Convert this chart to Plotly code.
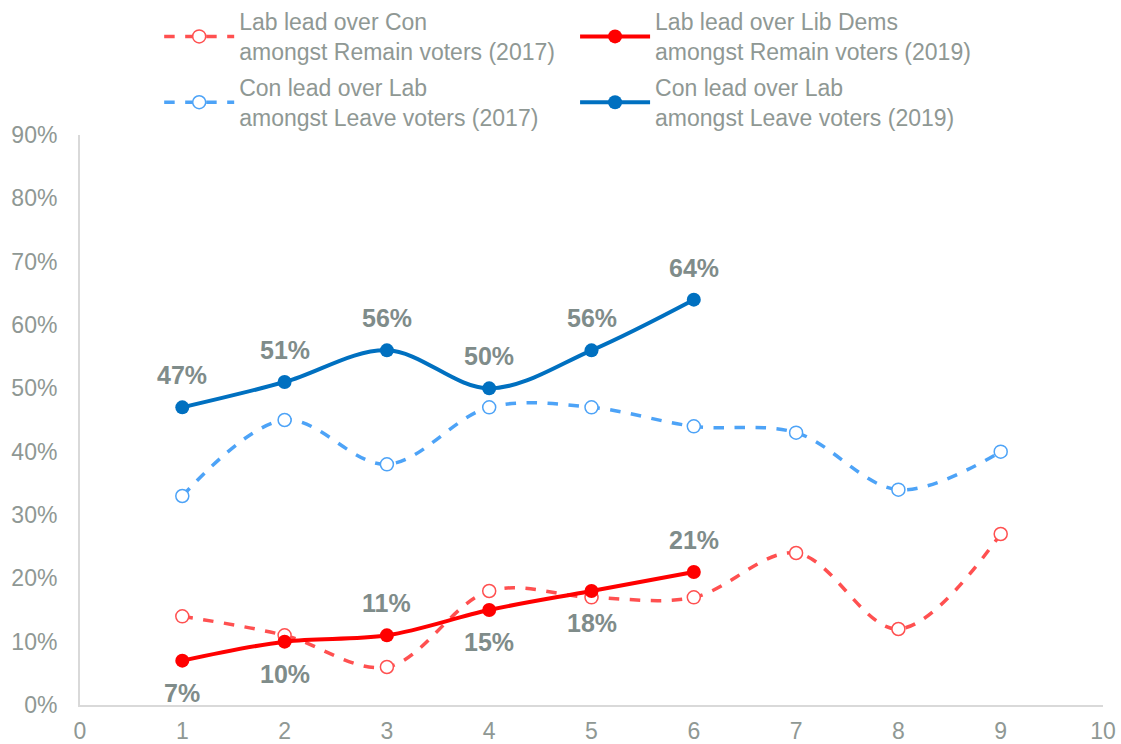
import plotly.graph_objects as go

x_2017 = [1, 2, 3, 4, 5, 6, 7, 8, 9]
x_2019 = [1, 2, 3, 4, 5, 6]
lab_con_remain_2017 = [14, 11, 6, 18, 17, 17, 24, 12, 27]
lab_ld_remain_2019 = [7, 10, 11, 15, 18, 21]
con_lab_leave_2017 = [33, 45, 38, 47, 47, 44, 43, 34, 40]
con_lab_leave_2019 = [47, 51, 56, 50, 56, 64]
red_label_pos = [-1, -1, 1, -1, -1, 1]
blue_label_pos = [1, 1, 1, 1, 1, 1]

names = [
    "Lab lead over Con<br>amongst Remain voters (2017)",
    "Lab lead over Lib Dems<br>amongst Remain voters (2019)",
    "Con lead over Lab<br>amongst Leave voters (2017)",
    "Con lead over Lab<br>amongst Leave voters (2019)",
]

RED_D = "#ff5050"
RED = "#ff0000"
BLUE_D = "#4da3f7"
BLUE = "#0070c0"
GRAY = "#8f9894"
LABEL = "#7f8c8a"
FONT = "Liberation Sans, Arial"

fig = go.Figure()
fig.add_trace(go.Scatter(
    x=x_2017, y=lab_con_remain_2017, name=names[0], mode="lines+markers",
    legend="legend", legendgroup="a",
    line=dict(color=RED_D, width=3.5, dash="dash", shape="spline"),
    marker=dict(symbol="circle", size=13, color="white", line=dict(color=RED_D, width=1.5)),
))
fig.add_trace(go.Scatter(
    x=x_2019, y=lab_ld_remain_2019, name=names[1], mode="lines+markers",
    legend="legend2", legendgroup="b",
    line=dict(color=RED, width=4, shape="spline"),
    marker=dict(symbol="circle", size=14, color=RED),
))
fig.add_trace(go.Scatter(
    x=x_2017, y=con_lab_leave_2017, name=names[2], mode="lines+markers",
    legend="legend", legendgroup="c",
    line=dict(color=BLUE_D, width=3.5, dash="dash", shape="spline"),
    marker=dict(symbol="circle", size=13, color="white", line=dict(color=BLUE_D, width=1.5)),
))
fig.add_trace(go.Scatter(
    x=x_2019, y=con_lab_leave_2019, name=names[3], mode="lines+markers",
    legend="legend2", legendgroup="d",
    line=dict(color=BLUE, width=4, shape="spline"),
    marker=dict(symbol="circle", size=14, color=BLUE),
))

annotations = []
for xs, ys, pos in [(x_2019, lab_ld_remain_2019, red_label_pos), (x_2019, con_lab_leave_2019, blue_label_pos)]:
    for xv, yv, p in zip(xs, ys, pos):
        annotations.append(dict(
            x=xv, y=yv, xref="x", yref="y", text=f"{yv}%", showarrow=False,
            yshift=32 * p, font=dict(family=FONT, size=25, color=LABEL, weight="bold"),
        ))

leg_common = dict(
    orientation="v", yanchor="top", xanchor="left", itemwidth=70,
    xref="container", yref="container",
    font=dict(family=FONT, size=23, color=GRAY), bgcolor="rgba(0,0,0,0)",
    borderwidth=0, tracegroupgap=3,
)

fig.update_layout(
    width=1121, height=744,
    margin=dict(l=80, r=18, t=135, b=39, autoexpand=False),
    plot_bgcolor="white", paper_bgcolor="white",
    font=dict(family=FONT, size=23, color=GRAY),
    showlegend=True,
    legend=dict(x=0.142, y=1.01, **leg_common),
    legend2=dict(x=0.513, y=1.01, **leg_common),
    xaxis=dict(
        range=[0, 10], dtick=1, tick0=0, showgrid=False, zeroline=False,
        showline=True, linecolor="#d9d9d9", linewidth=2,
        tickfont=dict(family=FONT, size=23, color=GRAY), ticks="", ticklabelstandoff=4,
    ),
    yaxis=dict(
        range=[0, 90], dtick=10, tick0=0, showgrid=False, zeroline=False,
        showline=True, linecolor="#d9d9d9", linewidth=2, ticksuffix="%",
        tickfont=dict(family=FONT, size=23, color=GRAY), ticks="", ticklabelstandoff=16,
    ),
    annotations=annotations,
)

fig.write_html("out.html", config={"displayModeBar": False},
               post_script="document.body.style.margin='0';")
